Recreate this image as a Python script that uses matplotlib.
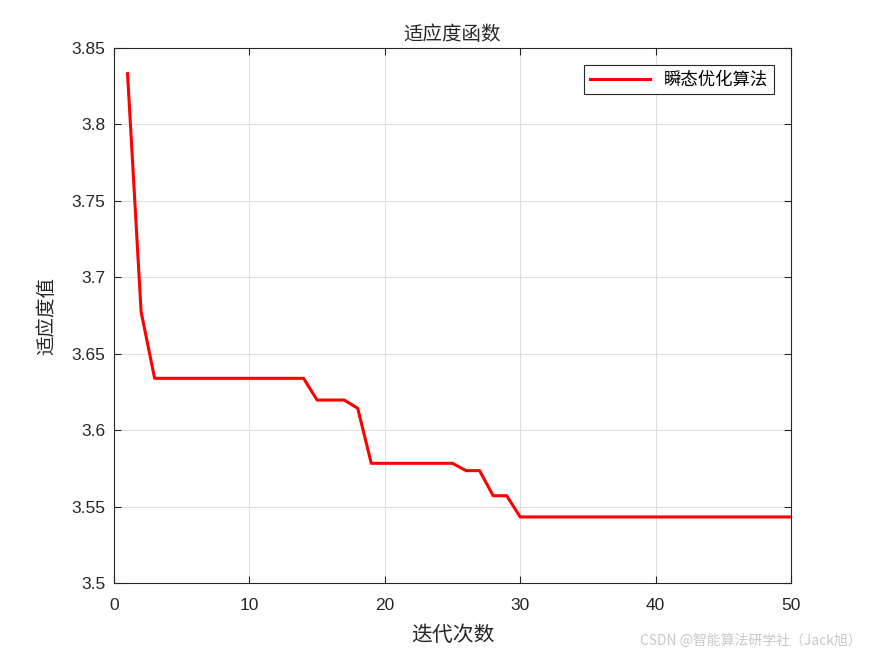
import matplotlib
matplotlib.use('Agg')
import matplotlib.pyplot as plt

plt.rcParams['font.family'] = ['Liberation Sans', 'Noto Sans CJK SC', 'DejaVu Sans']

# iteration values
iters = list(range(1, 51))
fitness = ([3.8332, 3.6775] + [3.6339] * 12 + [3.6197] * 3 + [3.6143]
           + [3.5783] * 7 + [3.5735] * 2 + [3.5571] * 2 + [3.5432] * 21)

fig = plt.figure(figsize=(8.75, 6.56), dpi=100)
ax = fig.add_axes([0.1303, 0.1113, 0.7737, 0.8155])

ax.plot(iters, fitness, color='red', lw=2.2, label='瞬态优化算法')

ax.set_xlim(0, 50)
ax.set_ylim(3.5, 3.85)
ax.set_xticks([0, 10, 20, 30, 40, 50])
ax.set_yticks([3.5, 3.55, 3.6, 3.65, 3.7, 3.75, 3.8, 3.85])
ax.set_yticklabels(['3.5', '3.55', '3.6', '3.65', '3.7', '3.75', '3.8', '3.85'])
ax.tick_params(direction='in', labelsize=12.5, length=5, width=0.8,
               top=True, right=True, colors='#262626')
ax.tick_params(axis='x', pad=11)
ax.tick_params(axis='y', pad=6)
ax.grid(True, color='#dcdcdc', lw=0.7)
for s in ax.spines.values():
    s.set_color('#262626')
    s.set_linewidth(0.8)

cjk = ['Noto Sans CJK SC', 'DejaVu Sans']
ax.set_title('适应度函数', family=cjk, fontsize=14, color='#262626', pad=6)
ax.set_xlabel('迭代次数', family=cjk, fontsize=15, color='#262626', labelpad=8)
ax.set_ylabel('适应度值', family=cjk, fontsize=14, color='#262626', labelpad=10)

leg = ax.legend(loc='upper right', prop={'family': cjk, 'size': 12.5},
                fancybox=False, edgecolor='#262626', framealpha=1,
                borderaxespad=1.0, handlelength=3.5, borderpad=0.3)
leg.get_frame().set_linewidth(0.8)

fig.text(0.985, 0.012, 'CSDN @智能算法研学社（Jack旭）', family=cjk,
         fontsize=10, color='#c8c8c8', ha='right', va='bottom')

fig.savefig('out.png', dpi=100)
